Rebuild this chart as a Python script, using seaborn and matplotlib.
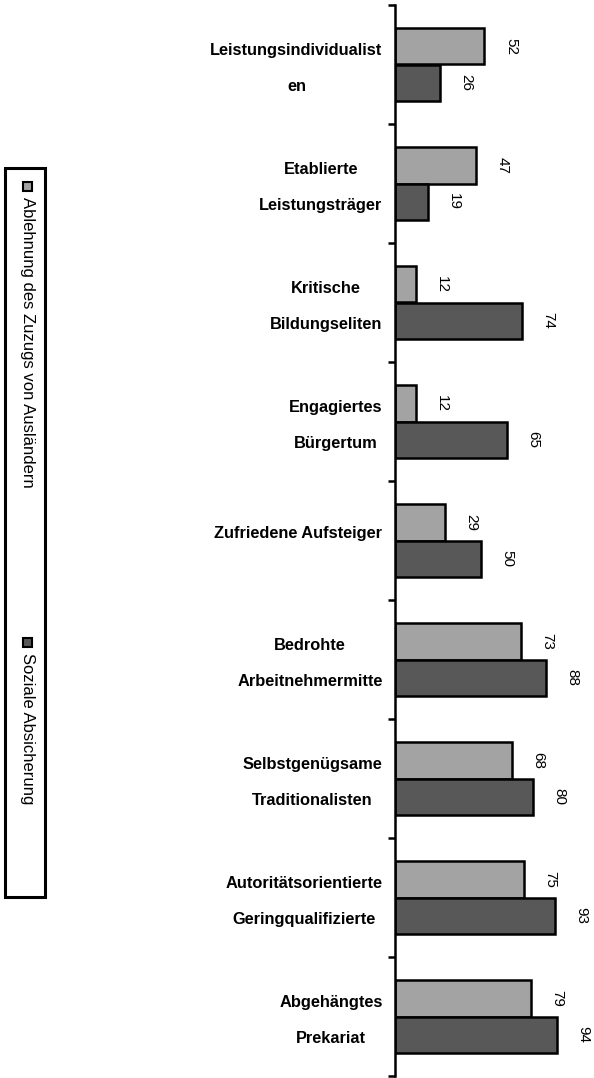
import numpy as np
import pandas as pd
import seaborn as sns
import matplotlib.pyplot as plt
from matplotlib.patches import Rectangle
from matplotlib.transforms import ScaledTranslation

# Chart data
categories = ['Leistungsindividualist\nen', 'Etablierte\nLeistungsträger', 'Kritische\nBildungseliten',
              'Engagiertes\nBürgertum', 'Zufriedene Aufsteiger', 'Bedrohte\nArbeitnehmermitte',
              'Selbstgenügsame\nTraditionalisten', 'Autoritätsorientierte\nGeringqualifizierte',
              'Abgehängtes\nPrekariat']
series_names = ['Ablehnung des Zuzugs von Ausländern', 'Soziale Absicherung']
ablehnung = [52, 47, 12, 12, 29, 73, 68, 75, 79]
absicherung = [26, 19, 74, 65, 50, 88, 80, 93, 94]
colors = ['#a3a3a3', '#585858']

df = pd.DataFrame({
    'cat': categories * 2,
    'val': ablehnung + absicherung,
    'series': [series_names[0]] * len(categories) + [series_names[1]] * len(categories),
})

sns.set_style('white')
plt.rcParams['font.family'] = ['Liberation Sans', 'DejaVu Sans']

fig = plt.figure(figsize=(5.94, 10.78), dpi=100)
ax = fig.add_axes([395 / 594, 1 - 1076 / 1078, 172 / 594, 1071 / 1078])

sns.barplot(data=df, y='cat', x='val', hue='series', orient='h', width=0.61,
            palette=colors, edgecolor='black', linewidth=1.8, legend=False, ax=ax)

ax.set_xlim(0, 100)
ax.set_ylim(len(categories) - 0.5, -0.5)
ax.set_xlabel('')
ax.set_ylabel('')
ax.set_xticks([])
for s in ['top', 'right', 'bottom']:
    ax.spines[s].set_visible(False)
ax.spines['left'].set_linewidth(1.8)
ax.spines['left'].set_color('black')

# ticks at group boundaries, labels at group centres
ax.set_yticks(np.arange(len(categories) + 1) - 0.5)
ax.set_yticklabels([])
ax.tick_params(axis='y', which='major', length=5, width=1.8, color='black', left=True)
ax.set_yticks(np.arange(len(categories)), minor=True)
ax.set_yticklabels(categories, minor=True, fontsize=11.8, fontweight='bold', color='black',
                   multialignment='center', linespacing=2.75)
ax.tick_params(axis='y', which='minor', length=0, pad=9)
shift = ScaledTranslation(0, 6 / 72, fig.dpi_scale_trans)
for lab in ax.get_yticklabels(minor=True):
    lab.set_transform(lab.get_transform() + shift)

# value labels, rotated
for cont, vals in zip(ax.containers, [ablehnung, absicherung]):
    ax.bar_label(cont, labels=[str(v) for v in vals], padding=14, rotation=-90,
                 fontsize=11, color='black')

# vertical legend box on the left
fig.patches.append(Rectangle((5 / 594, 1 - 897 / 1078), 40 / 594, 729 / 1078,
                             transform=fig.transFigure, facecolor='white',
                             edgecolor='black', linewidth=2.2, zorder=1))
leg_pos = [187, 643]
for y0, name, c in zip(leg_pos, series_names, colors):
    fig.patches.append(Rectangle((23 / 594, 1 - (y0 + 4) / 1078), 9 / 594, 9 / 1078,
                                 transform=fig.transFigure, facecolor=c,
                                 edgecolor='black', linewidth=1.5, zorder=2))
    fig.text(27.5 / 594, 1 - (y0 + 10) / 1078, name, rotation=-90, ha='center', va='top',
             fontsize=12, color='black')

fig.savefig('out.png', dpi=100)
